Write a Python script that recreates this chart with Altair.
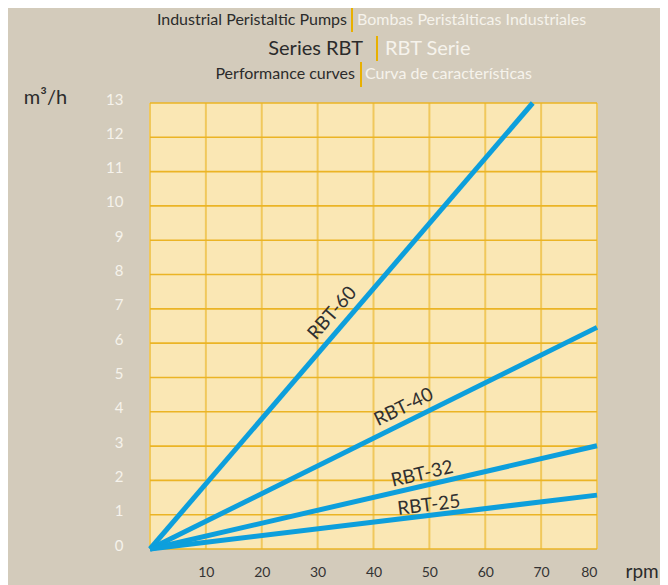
import altair as alt
import pandas as pd

# ---- data ----
series = ["RBT-60", "RBT-40", "RBT-32", "RBT-25"]
rpm_end = [68.5, 80, 80, 80]
flow_end = [13.0, 6.46, 3.01, 1.57]

label_x = [32.6, 45.4, 48.7, 49.9]
label_y = [6.88, 4.14, 2.19, 1.28]
label_angle = [311, 334, 347, 353]

x_ticks = [10, 20, 30, 40, 50, 60, 70, 80]
y_ticks = list(range(0, 14))

rows = []
for s, xe, ye in zip(series, rpm_end, flow_end):
    rows.append({"series": s, "rpm": 0, "flow": 0})
    rows.append({"series": s, "rpm": xe, "flow": ye})
lines_df = pd.DataFrame(rows)
labels_df = pd.DataFrame({"series": series, "rpm": label_x, "flow": label_y, "angle": label_angle})

FONT = "Lato"
DARK = "#2b2b2b"
WHITE = "#f6f3ec"
GOLD = "#e8b000"
BLUE = "#0d9fdc"

W, H = 447, 446

xscale = alt.Scale(domain=[0, 80], nice=False)
yscale = alt.Scale(domain=[0, 13], nice=False)

xaxis = alt.Axis(values=x_ticks, grid=False, domain=False, ticks=False,
                 labelFont=FONT, labelFontSize=14, labelColor="#333333",
                 labelPadding=16, labelBaseline="top", labelOverlap=False,
                 title="rpm", titleFont=FONT, titleFontSize=19,
                 titleFontWeight="normal", titleColor=DARK,
                 titleX=475, titleY=22, titleAlign="left",
                 titleBaseline="middle")
yaxis = alt.Axis(values=y_ticks, grid=False, domain=False, ticks=False,
                 labelFont=FONT, labelFontSize=15, labelColor=WHITE,
                 labelPadding=27, labelOffset=-4, labelOverlap=False,
                 labelBound=False, labelFlush=False,
                 title="m³/h", titleFont=FONT, titleFontSize=20,
                 titleFontWeight="normal", titleColor=DARK,
                 titleAngle=0, titleX=-105, titleY=-6,
                 titleAlign="center", titleBaseline="middle")


def X():
    return alt.X("rpm:Q", scale=xscale, axis=xaxis)


def Y():
    return alt.Y("flow:Q", scale=yscale, axis=yaxis)


xgrid_df = pd.DataFrame({"rpm": [0] + x_ticks})
ygrid_df = pd.DataFrame({"flow": y_ticks})

xgrid = alt.Chart(xgrid_df).mark_rule(color="#f0c85c", strokeWidth=2).encode(x=X())
ygrid = alt.Chart(ygrid_df).mark_rule(color="#ebb425", strokeWidth=1.6).encode(y=Y())

lines = alt.Chart(lines_df).mark_line(color=BLUE, strokeWidth=5, strokeCap="butt").encode(
    x=X(), y=Y(), detail="series:N",
)

labels = alt.Chart(labels_df).mark_text(font=FONT, fontSize=19, color="#303030",
                                         align="center", baseline="middle").encode(
    x=X(), y=Y(),
    text="series:N",
    angle=alt.Angle("angle:Q", scale=None),
)

one = pd.DataFrame({"k": [0]})


def txt(s, x, y, size, color, align):
    return alt.Chart(one).mark_text(text=s, font=FONT, fontSize=size, color=color,
                                    align=align, baseline="middle").encode(
        x=alt.value(x), y=alt.value(y))


def bar(x, y1, y2):
    return alt.Chart(one).mark_rule(color=GOLD, strokeWidth=2).encode(
        x=alt.value(x), y=alt.value(y1), y2=alt.value(y2))


header = [
    txt("Industrial Peristaltic Pumps", 197, -83, 16, DARK, "right"),
    bar(202, -96, -71),
    txt("Bombas Peristálticas Industriales", 207, -83, 16, WHITE, "left"),
    txt("Series RBT", 213, -54, 20, DARK, "right"),
    bar(227, -67, -42),
    txt("RBT Serie", 235, -54, 20, WHITE, "left"),
    txt("Performance curves", 205, -29, 16, DARK, "right"),
    bar(211, -41, -16),
    txt("Curva de características", 215, -29, 16, WHITE, "left"),
]

chart = alt.layer(xgrid, ygrid, lines, labels, *header).properties(
    width=W, height=H,
    background="#d3cbbb",
    autosize=alt.AutoSizeParams(type="none"),
    padding={"left": 142, "top": 95, "right": 63, "bottom": 38},
).configure_view(fill="#fae7b4", stroke=None)

chart.save("out.html", embed_options={"renderer": "svg", "actions": False})
